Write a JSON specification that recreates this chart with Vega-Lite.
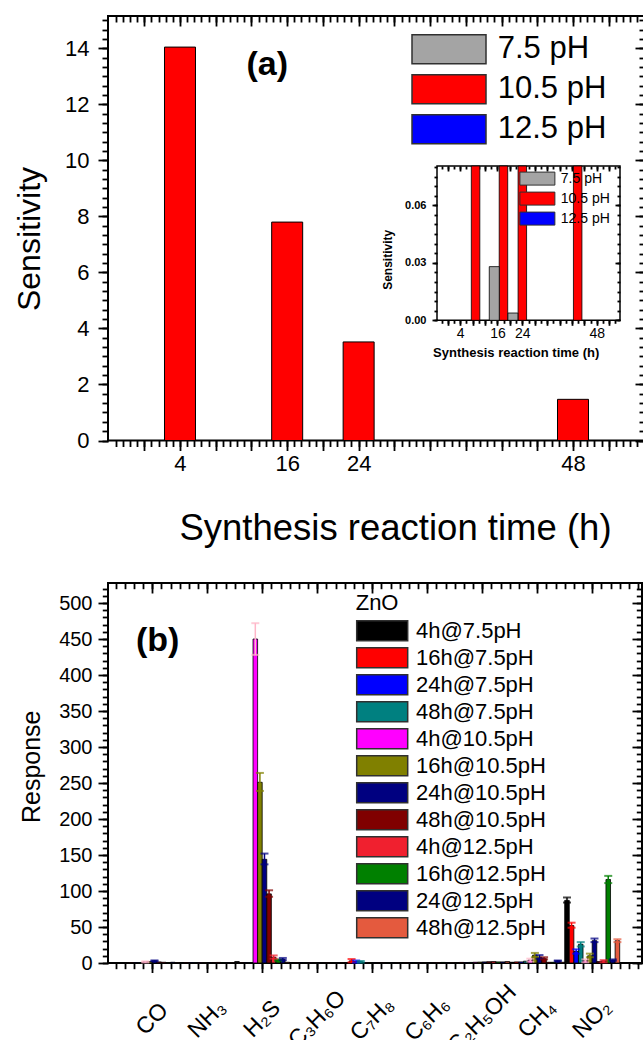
{
  "$schema": "https://vega.github.io/schema/vega-lite/v6.json",
  "padding": {"left": 12, "top": 14, "right": 0, "bottom": 0},
  "background": "white",
  "spacing": 33,
  "config": {
    "font": "Liberation Sans",
    "view": {"stroke": "black", "strokeWidth": 2},
    "axis": {"domain": false, "grid": false, "tickColor": "black", "tickWidth": 1.8, "labelColor": "black", "titleColor": "black", "labelFont": "Liberation Sans", "titleFont": "Liberation Sans", "titleFontWeight": "normal", "zindex": 1, "labelFlush": false, "labelOverlap": false, "labelBound": false},
    "legend": {"labelFont": "Liberation Sans", "titleFont": "Liberation Sans", "labelColor": "black", "titleColor": "black"}
  },
  "datasets": {
    "mainA": [
      {"t": 4, "pH": "10.5 pH", "s": 14.05},
      {"t": 16, "pH": "10.5 pH", "s": 7.8},
      {"t": 24, "pH": "10.5 pH", "s": 3.52},
      {"t": 48, "pH": "10.5 pH", "s": 1.47}
    ],
    "insetA": [
      {"t": 7.95, "pH": "10.5 pH", "s": 14.05},
      {"t": 17.46, "pH": "10.5 pH", "s": 7.8},
      {"t": 23.9, "pH": "10.5 pH", "s": 3.52},
      {"t": 42.77, "pH": "10.5 pH", "s": 1.47},
      {"t": 14.33, "pH": "7.5 pH", "s": 0.028},
      {"t": 20.68, "pH": "7.5 pH", "s": 0.0038}
    ],
    "gas": [
      {"g": "CO", "sr": "4h@7.5pH", "r": 0.5}, {"g": "CO", "sr": "16h@7.5pH", "r": 0.4}, {"g": "CO", "sr": "24h@7.5pH", "r": 0.6}, {"g": "CO", "sr": "48h@7.5pH", "r": 0.5},
      {"g": "CO", "sr": "4h@10.5pH", "r": 1.5, "lo": 0.8, "hi": 2.2}, {"g": "CO", "sr": "16h@10.5pH", "r": 2}, {"g": "CO", "sr": "24h@10.5pH", "r": 3, "lo": 2.4, "hi": 3.6}, {"g": "CO", "sr": "48h@10.5pH", "r": 1.5},
      {"g": "CO", "sr": "4h@12.5pH", "r": 1}, {"g": "CO", "sr": "16h@12.5pH", "r": 0.5}, {"g": "CO", "sr": "24@12.5pH", "r": 1}, {"g": "CO", "sr": "48h@12.5pH", "r": 0.5},
      {"g": "NH₃", "sr": "4h@7.5pH", "r": 0.3}, {"g": "NH₃", "sr": "16h@7.5pH", "r": 0.6}, {"g": "NH₃", "sr": "24h@7.5pH", "r": 0.6}, {"g": "NH₃", "sr": "48h@7.5pH", "r": 0.3},
      {"g": "NH₃", "sr": "4h@10.5pH", "r": 0.3}, {"g": "NH₃", "sr": "16h@10.5pH", "r": 0.4}, {"g": "NH₃", "sr": "24h@10.5pH", "r": 0.5}, {"g": "NH₃", "sr": "48h@10.5pH", "r": 0.7},
      {"g": "NH₃", "sr": "4h@12.5pH", "r": 0.8}, {"g": "NH₃", "sr": "16h@12.5pH", "r": 0.5}, {"g": "NH₃", "sr": "24@12.5pH", "r": 0.5}, {"g": "NH₃", "sr": "48h@12.5pH", "r": 0.4},
      {"g": "H₂S", "sr": "4h@7.5pH", "r": 2}, {"g": "H₂S", "sr": "16h@7.5pH", "r": 0.3}, {"g": "H₂S", "sr": "24h@7.5pH", "r": 0.3}, {"g": "H₂S", "sr": "48h@7.5pH", "r": 0.3},
      {"g": "H₂S", "sr": "4h@10.5pH", "r": 450, "lo": 428, "hi": 472}, {"g": "H₂S", "sr": "16h@10.5pH", "r": 251, "lo": 239, "hi": 264}, {"g": "H₂S", "sr": "24h@10.5pH", "r": 144, "lo": 137, "hi": 152}, {"g": "H₂S", "sr": "48h@10.5pH", "r": 96, "lo": 92, "hi": 101},
      {"g": "H₂S", "sr": "4h@12.5pH", "r": 8, "lo": 6, "hi": 10.5}, {"g": "H₂S", "sr": "16h@12.5pH", "r": 4, "lo": 3, "hi": 5}, {"g": "H₂S", "sr": "24@12.5pH", "r": 5, "lo": 4, "hi": 7}, {"g": "H₂S", "sr": "48h@12.5pH", "r": 1},
      {"g": "C₃H₆O", "sr": "4h@7.5pH", "r": 0.2}, {"g": "C₃H₆O", "sr": "16h@7.5pH", "r": 0.2}, {"g": "C₃H₆O", "sr": "24h@7.5pH", "r": 0.2}, {"g": "C₃H₆O", "sr": "48h@7.5pH", "r": 0.2},
      {"g": "C₃H₆O", "sr": "4h@10.5pH", "r": 0.2}, {"g": "C₃H₆O", "sr": "16h@10.5pH", "r": 0.2}, {"g": "C₃H₆O", "sr": "24h@10.5pH", "r": 0.2}, {"g": "C₃H₆O", "sr": "48h@10.5pH", "r": 0.2},
      {"g": "C₃H₆O", "sr": "4h@12.5pH", "r": 0.2}, {"g": "C₃H₆O", "sr": "16h@12.5pH", "r": 0.2}, {"g": "C₃H₆O", "sr": "24@12.5pH", "r": 0.2}, {"g": "C₃H₆O", "sr": "48h@12.5pH", "r": 0.2},
      {"g": "C₇H₈", "sr": "4h@7.5pH", "r": 0.3}, {"g": "C₇H₈", "sr": "16h@7.5pH", "r": 3, "lo": 1, "hi": 5.5}, {"g": "C₇H₈", "sr": "24h@7.5pH", "r": 2, "lo": 0.5, "hi": 3.5}, {"g": "C₇H₈", "sr": "48h@7.5pH", "r": 1.5, "lo": 0.5, "hi": 2.8},
      {"g": "C₇H₈", "sr": "4h@10.5pH", "r": 0.3}, {"g": "C₇H₈", "sr": "16h@10.5pH", "r": 0.3}, {"g": "C₇H₈", "sr": "24h@10.5pH", "r": 0.3}, {"g": "C₇H₈", "sr": "48h@10.5pH", "r": 0.3},
      {"g": "C₇H₈", "sr": "4h@12.5pH", "r": 0.2}, {"g": "C₇H₈", "sr": "16h@12.5pH", "r": 0.2}, {"g": "C₇H₈", "sr": "24@12.5pH", "r": 0.2}, {"g": "C₇H₈", "sr": "48h@12.5pH", "r": 0.2},
      {"g": "C₆H₆", "sr": "4h@7.5pH", "r": 0.2}, {"g": "C₆H₆", "sr": "16h@7.5pH", "r": 0.2}, {"g": "C₆H₆", "sr": "24h@7.5pH", "r": 0.2}, {"g": "C₆H₆", "sr": "48h@7.5pH", "r": 0.2},
      {"g": "C₆H₆", "sr": "4h@10.5pH", "r": 0.2}, {"g": "C₆H₆", "sr": "16h@10.5pH", "r": 0.2}, {"g": "C₆H₆", "sr": "24h@10.5pH", "r": 0.2}, {"g": "C₆H₆", "sr": "48h@10.5pH", "r": 0.3},
      {"g": "C₆H₆", "sr": "4h@12.5pH", "r": 0.6}, {"g": "C₆H₆", "sr": "16h@12.5pH", "r": 0.8}, {"g": "C₆H₆", "sr": "24@12.5pH", "r": 0.5}, {"g": "C₆H₆", "sr": "48h@12.5pH", "r": 0.4},
      {"g": "C₂H₅OH", "sr": "4h@7.5pH", "r": 0.5}, {"g": "C₂H₅OH", "sr": "16h@7.5pH", "r": 0.8}, {"g": "C₂H₅OH", "sr": "24h@7.5pH", "r": 0.6}, {"g": "C₂H₅OH", "sr": "48h@7.5pH", "r": 0.8},
      {"g": "C₂H₅OH", "sr": "4h@10.5pH", "r": 1}, {"g": "C₂H₅OH", "sr": "16h@10.5pH", "r": 1.2}, {"g": "C₂H₅OH", "sr": "24h@10.5pH", "r": 1.5}, {"g": "C₂H₅OH", "sr": "48h@10.5pH", "r": 1.8},
      {"g": "C₂H₅OH", "sr": "4h@12.5pH", "r": 2}, {"g": "C₂H₅OH", "sr": "16h@12.5pH", "r": 1.5}, {"g": "C₂H₅OH", "sr": "24@12.5pH", "r": 1.5}, {"g": "C₂H₅OH", "sr": "48h@12.5pH", "r": 2},
      {"g": "CH₄", "sr": "4h@7.5pH", "r": 1}, {"g": "CH₄", "sr": "16h@7.5pH", "r": 1.5}, {"g": "CH₄", "sr": "24h@7.5pH", "r": 1.5}, {"g": "CH₄", "sr": "48h@7.5pH", "r": 2.5},
      {"g": "CH₄", "sr": "4h@10.5pH", "r": 4, "lo": 2, "hi": 6}, {"g": "CH₄", "sr": "16h@10.5pH", "r": 11, "lo": 8, "hi": 14}, {"g": "CH₄", "sr": "24h@10.5pH", "r": 8, "lo": 6, "hi": 11}, {"g": "CH₄", "sr": "48h@10.5pH", "r": 6, "lo": 5, "hi": 8},
      {"g": "CH₄", "sr": "4h@12.5pH", "r": 1}, {"g": "CH₄", "sr": "16h@12.5pH", "r": 1}, {"g": "CH₄", "sr": "24@12.5pH", "r": 3, "lo": 2.5, "hi": 3.5}, {"g": "CH₄", "sr": "48h@12.5pH", "r": 1},
      {"g": "NO₂", "sr": "4h@7.5pH", "r": 87, "lo": 84, "hi": 91}, {"g": "NO₂", "sr": "16h@7.5pH", "r": 52, "lo": 49, "hi": 56}, {"g": "NO₂", "sr": "24h@7.5pH", "r": 16, "lo": 13, "hi": 19}, {"g": "NO₂", "sr": "48h@7.5pH", "r": 26, "lo": 23, "hi": 29},
      {"g": "NO₂", "sr": "4h@10.5pH", "r": 3, "lo": 1, "hi": 5}, {"g": "NO₂", "sr": "16h@10.5pH", "r": 10, "lo": 8, "hi": 13}, {"g": "NO₂", "sr": "24h@10.5pH", "r": 31, "lo": 29, "hi": 34}, {"g": "NO₂", "sr": "48h@10.5pH", "r": 2},
      {"g": "NO₂", "sr": "4h@12.5pH", "r": 3, "lo": 1, "hi": 4}, {"g": "NO₂", "sr": "16h@12.5pH", "r": 116, "lo": 111, "hi": 121}, {"g": "NO₂", "sr": "24@12.5pH", "r": 4, "lo": 3, "hi": 5}, {"g": "NO₂", "sr": "48h@12.5pH", "r": 31, "lo": 29, "hi": 33}
    ]
  },
  "vconcat": [
    {
      "width": 537,
      "height": 424.5,
      "resolve": {"scale": {"x": "independent", "y": "independent", "fill": "independent"}, "axis": {"x": "independent", "y": "independent"}},
      "layer": [
        {
          "data": {"name": "mainA"},
          "mark": {"type": "bar", "size": 31, "stroke": "black", "strokeWidth": 1},
          "encoding": {
            "x": {"field": "t", "type": "quantitative", "scale": {"domain": [-3.5, 55.5], "nice": false, "zero": false},
              "axis": {"orient": "bottom", "values": [0, 4, 8, 12, 16, 20, 24, 28, 32, 36, 40, 44, 48, 52], "tickSize": 10, "labelFontSize": 22, "labelPadding": 3,
                "labelExpr": "indexof([4,16,24,48], datum.value) >= 0 ? datum.label : ''",
                "title": "Synthesis reaction time (h)", "titleFontSize": 36.5, "titleX": 287, "titleY": 87.5, "titleBaseline": "middle", "titleAlign": "center"}},
            "y": {"field": "s", "type": "quantitative", "scale": {"domain": [0, 15.16], "nice": false},
              "axis": {"orient": "left", "values": [0, 2, 4, 6, 8, 10, 12, 14], "tickSize": 10, "labelFontSize": 22, "labelPadding": 9,
                "title": "Sensitivity", "titleFontSize": 32, "titleX": -79, "titleY": 222.5, "titleBaseline": "middle", "titleAlign": "center", "titleAngle": 270}},
            "fill": {"field": "pH", "type": "nominal", "scale": {"domain": ["7.5 pH", "10.5 pH", "12.5 pH"], "range": ["#a4a4a4", "#ff0000", "#0000ff"]},
              "legend": {"orient": "none", "legendX": 303, "legendY": 11.2, "title": null, "symbolType": "M-1,-0.69H2.524V0.69H-1Z", "symbolSize": 1764, "symbolStrokeColor": "#303030", "symbolStrokeWidth": 1.5, "labelFontSize": 31, "labelOffset": 42.7, "rowPadding": 0, "labelLimit": 300}}
          }
        },
        {
          "data": {"name": "mainA"},
          "mark": {"type": "bar", "size": 1, "opacity": 0},
          "encoding": {
            "x": {"field": "t", "type": "quantitative", "scale": {"domain": [-3.5, 55.5], "nice": false, "zero": false},
              "axis": {"orient": "bottom", "tickSize": 6, "labels": false, "title": null, "values": [-3.2,-2.4,-1.6,-0.8,0,0.8,1.6,2.4,3.2,4,4.8,5.6,6.4,7.2,8,8.8,9.6,10.4,11.2,12,12.8,13.6,14.4,15.2,16,16.8,17.6,18.4,19.2,20,20.8,21.6,22.4,23.2,24,24.8,25.6,26.4,27.2,28,28.8,29.6,30.4,31.2,32,32.8,33.6,34.4,35.2,36,36.8,37.6,38.4,39.2,40,40.8,41.6,42.4,43.2,44,44.8,45.6,46.4,47.2,48,48.8,49.6,50.4,51.2,52,52.8,53.6,54.4,55.2]}},
            "y": {"field": "s", "type": "quantitative", "scale": {"domain": [0, 15.16], "nice": false},
              "axis": {"orient": "left", "tickSize": 6, "labels": false, "title": null, "values": [0,0.3333,0.6667,1,1.3333,1.6667,2,2.3333,2.6667,3,3.3333,3.6667,4,4.3333,4.6667,5,5.3333,5.6667,6,6.3333,6.6667,7,7.3333,7.6667,8,8.3333,8.6667,9,9.3333,9.6667,10,10.3333,10.6667,11,11.3333,11.6667,12,12.3333,12.6667,13,13.3333,13.6667,14,14.3333,14.6667,15]}}
          }
        },
        {
          "data": {"name": "mainA"},
          "mark": {"type": "bar", "size": 1, "opacity": 0},
          "encoding": {
            "x": {"field": "t", "type": "quantitative", "scale": {"domain": [-3.5, 55.5], "nice": false, "zero": false},
              "axis": {"orient": "top", "offset": -10, "tickSize": 10, "labels": false, "title": null, "values": [0, 4, 8, 12, 16, 20, 24, 28, 32, 36, 40, 44, 48, 52]}},
            "y": {"field": "s", "type": "quantitative", "scale": {"domain": [0, 15.16], "nice": false},
              "axis": {"orient": "right", "offset": -10, "tickSize": 10, "labels": false, "title": null, "values": [0, 2, 4, 6, 8, 10, 12, 14]}}
          }
        },
        {
          "data": {"name": "mainA"},
          "mark": {"type": "bar", "size": 1, "opacity": 0},
          "encoding": {
            "x": {"field": "t", "type": "quantitative", "scale": {"domain": [-3.5, 55.5], "nice": false, "zero": false},
              "axis": {"orient": "top", "offset": -6, "tickSize": 6, "labels": false, "title": null, "values": [-3.2,-2.4,-1.6,-0.8,0,0.8,1.6,2.4,3.2,4,4.8,5.6,6.4,7.2,8,8.8,9.6,10.4,11.2,12,12.8,13.6,14.4,15.2,16,16.8,17.6,18.4,19.2,20,20.8,21.6,22.4,23.2,24,24.8,25.6,26.4,27.2,28,28.8,29.6,30.4,31.2,32,32.8,33.6,34.4,35.2,36,36.8,37.6,38.4,39.2,40,40.8,41.6,42.4,43.2,44,44.8,45.6,46.4,47.2,48,48.8,49.6,50.4,51.2,52,52.8,53.6,54.4,55.2]}},
            "y": {"field": "s", "type": "quantitative", "scale": {"domain": [0, 15.16], "nice": false},
              "axis": {"orient": "right", "offset": -6, "tickSize": 6, "labels": false, "title": null, "values": [0,0.3333,0.6667,1,1.3333,1.6667,2,2.3333,2.6667,3,3.3333,3.6667,4,4.3333,4.6667,5,5.3333,5.6667,6,6.3333,6.6667,7,7.3333,7.6667,8,8.3333,8.6667,9,9.3333,9.6667,10,10.3333,10.6667,11,11.3333,11.6667,12,12.3333,12.6667,13,13.3333,13.6667,14,14.3333,14.6667,15]}}
          }
        },
        {
          "data": {"values": [{}]},
          "mark": {"type": "rect", "fill": "white", "fillOpacity": 0, "stroke": "black", "strokeWidth": 1.5},
          "encoding": {
            "x": {"datum": -3.5, "type": "quantitative", "scale": {"domain": [-3.5, 55.5], "range": [329, 512], "nice": false, "zero": false},
              "axis": {"orient": "bottom", "offset": -120.2, "values": [0, 4, 8, 12, 16, 20, 24, 28, 32, 36, 40, 44, 48, 52], "tickSize": 5, "labelFontSize": 14, "labelPadding": 1,
                "labelExpr": "indexof([4,16,24,48], datum.value) >= 0 ? datum.label : ''",
                "title": "Synthesis reaction time (h)", "titleFontSize": 13, "titleFontWeight": "bold", "titleX": 407.7, "titleY": 31.7, "titleBaseline": "middle", "titleAlign": "center"}},
            "x2": {"datum": 55.5},
            "y": {"datum": 0, "type": "quantitative", "scale": {"domain": [0, 0.0805], "range": [304.3, 150], "nice": false, "zero": false},
              "axis": {"orient": "left", "offset": -329, "values": [0, 0.03, 0.06], "format": ".2f", "tickSize": 5, "labelFontSize": 11, "labelFontWeight": "bold", "labelPadding": 6,
                "title": "Sensitivity", "titleFontSize": 12, "titleFontWeight": "bold", "titleX": -50, "titleY": 243.3, "titleBaseline": "middle", "titleAlign": "center", "titleAngle": 270}},
            "y2": {"datum": 0.0805}
          }
        },
        {
          "data": {"name": "insetA"},
          "transform": [{"filter": "datum.pH == '10.5 pH'"}],
          "mark": {"type": "bar", "size": 8.5, "stroke": "black", "strokeWidth": 0.8},
          "encoding": {
            "x": {"field": "t", "type": "quantitative", "scale": {"domain": [-3.5, 55.5], "range": [329, 512], "nice": false, "zero": false}, "axis": null},
            "y": {"field": "s", "type": "quantitative", "scale": {"domain": [0, 0.0805], "range": [304.3, 150], "nice": false, "zero": false, "clamp": true}, "axis": null},
            "fill": {"field": "pH", "type": "nominal", "scale": {"domain": ["7.5 pH", "10.5 pH", "12.5 pH"], "range": ["#a4a4a4", "#ff0000", "#0000ff"]},
              "legend": {"orient": "none", "legendX": 411, "legendY": 151.1, "title": null, "symbolType": "M-1,-0.613H2.302V0.613H-1Z", "symbolSize": 449, "symbolStrokeColor": "#303030", "symbolStrokeWidth": 1, "labelFontSize": 14, "labelOffset": 18.8, "rowPadding": 0}}
          }
        },
        {
          "data": {"name": "insetA"},
          "transform": [{"filter": "datum.pH == '7.5 pH'"}],
          "mark": {"type": "bar", "size": 10, "fill": "#a4a4a4", "stroke": "black", "strokeWidth": 0.8},
          "encoding": {
            "x": {"field": "t", "type": "quantitative", "scale": {"domain": [-3.5, 55.5], "range": [329, 512], "nice": false, "zero": false}, "axis": null},
            "y": {"field": "s", "type": "quantitative", "scale": {"domain": [0, 0.0805], "range": [304.3, 150], "nice": false, "zero": false, "clamp": true}, "axis": null}
          }
        },
        {
          "data": {"values": [{}]},
          "mark": {"type": "rect", "opacity": 0},
          "encoding": {
            "x": {"datum": -3.5, "type": "quantitative", "scale": {"domain": [-3.5, 55.5], "range": [329, 512], "nice": false, "zero": false},
              "axis": {"orient": "bottom", "offset": -120.2, "tickSize": 3, "labels": false, "title": null, "values": [-2,0,2,4,6,8,10,12,14,16,18,20,22,24,26,28,30,32,34,36,38,40,42,44,46,48,50,52,54]}},
            "x2": {"datum": 55.5},
            "y": {"datum": 0, "type": "quantitative", "scale": {"domain": [0, 0.0805], "range": [304.3, 150], "nice": false, "zero": false},
              "axis": {"orient": "left", "offset": -329, "tickSize": 3, "labels": false, "title": null, "values": [0,0.005,0.01,0.015,0.02,0.025,0.03,0.035,0.04,0.045,0.05,0.055,0.06,0.065,0.07,0.075,0.08]}},
            "y2": {"datum": 0.0805}
          }
        },
        {
          "data": {"values": [{}]},
          "mark": {"type": "rect", "opacity": 0},
          "encoding": {
            "x": {"datum": -3.5, "type": "quantitative", "scale": {"domain": [-3.5, 55.5], "range": [329, 512], "nice": false, "zero": false},
              "axis": {"orient": "top", "offset": -155, "tickSize": 5, "labels": false, "title": null, "values": [0, 4, 8, 12, 16, 20, 24, 28, 32, 36, 40, 44, 48, 52]}},
            "x2": {"datum": 55.5},
            "y": {"datum": 0, "type": "quantitative", "scale": {"domain": [0, 0.0805], "range": [304.3, 150], "nice": false, "zero": false},
              "axis": {"orient": "right", "offset": -30, "tickSize": 5, "labels": false, "title": null, "values": [0, 0.03, 0.06]}},
            "y2": {"datum": 0.0805}
          }
        },
        {
          "data": {"values": [{}]},
          "mark": {"type": "rect", "opacity": 0},
          "encoding": {
            "x": {"datum": -3.5, "type": "quantitative", "scale": {"domain": [-3.5, 55.5], "range": [329, 512], "nice": false, "zero": false},
              "axis": {"orient": "top", "offset": -153, "tickSize": 3, "labels": false, "title": null, "values": [-2,0,2,4,6,8,10,12,14,16,18,20,22,24,26,28,30,32,34,36,38,40,42,44,46,48,50,52,54]}},
            "x2": {"datum": 55.5},
            "y": {"datum": 0, "type": "quantitative", "scale": {"domain": [0, 0.0805], "range": [304.3, 150], "nice": false, "zero": false},
              "axis": {"orient": "right", "offset": -28, "tickSize": 3, "labels": false, "title": null, "values": [0,0.005,0.01,0.015,0.02,0.025,0.03,0.035,0.04,0.045,0.05,0.055,0.06,0.065,0.07,0.075,0.08]}},
            "y2": {"datum": 0.0805}
          }
        },
        {
          "data": {"values": [{}]},
          "mark": {"type": "text", "text": "(a)", "font": "Liberation Sans", "fontWeight": "bold", "fontSize": 34, "align": "center", "baseline": "middle", "color": "black"},
          "encoding": {
            "x": {"datum": 14, "type": "quantitative", "scale": {"domain": [-3.5, 55.5], "nice": false, "zero": false}, "axis": null},
            "y": {"datum": 13.4, "type": "quantitative", "scale": {"domain": [0, 15.16], "nice": false}, "axis": null}
          }
        }
      ]
    },
    {
      "width": 534,
      "height": 380,
      "resolve": {"scale": {"x": "independent", "y": "independent", "fill": "independent", "stroke": "independent", "color": "independent"}, "axis": {"x": "independent", "y": "independent"}},
      "layer": [
        {
          "data": {"name": "gas"},
          "mark": {"type": "bar", "stroke": "black", "strokeWidth": 0.8},
          "encoding": {
            "x": {"field": "g", "type": "nominal", "scale": {"type": "band", "domain": ["CO", "NH₃", "H₂S", "C₃H₆O", "C₇H₈", "C₆H₆", "C₂H₅OH", "CH₄", "NO₂"], "paddingInner": 0, "paddingOuter": 0.3545, "align": 0.428},
              "axis": {"orient": "bottom", "bandPosition": 0.5, "tickSize": 9.5, "labelAngle": -45, "labelAlign": "center", "labelBaseline": "middle", "labelPadding": 46, "labelFontSize": 23, "title": null}},
            "xOffset": {"field": "sr", "type": "nominal", "scale": {"domain": ["4h@7.5pH", "16h@7.5pH", "24h@7.5pH", "48h@7.5pH", "4h@10.5pH", "16h@10.5pH", "24h@10.5pH", "48h@10.5pH", "4h@12.5pH", "16h@12.5pH", "24@12.5pH", "48h@12.5pH"], "paddingInner": 0, "paddingOuter": 0}},
            "y": {"field": "r", "type": "quantitative", "scale": {"domain": [0, 527.8], "nice": false},
              "axis": {"orient": "left", "values": [0, 50, 100, 150, 200, 250, 300, 350, 400, 450, 500], "tickSize": 10, "labelFontSize": 20, "labelPadding": 6,
                "title": "Response", "titleFontSize": 25, "titleX": -76.5, "titleY": 183.3, "titleBaseline": "middle", "titleAlign": "center", "titleAngle": 270}},
            "fill": {"field": "sr", "type": "nominal",
              "scale": {"domain": ["4h@7.5pH", "16h@7.5pH", "24h@7.5pH", "48h@7.5pH", "4h@10.5pH", "16h@10.5pH", "24h@10.5pH", "48h@10.5pH", "4h@12.5pH", "16h@12.5pH", "24@12.5pH", "48h@12.5pH"],
                "range": ["#000000", "#ff0000", "#0000ff", "#008080", "#ff00ff", "#808000", "#000080", "#800000", "#f0202f", "#008000", "#000080", "#e45a3e"]},
              "legend": {"orient": "none", "legendX": 247.7, "legendY": 10.3, "title": "ZnO", "titleFontSize": 22, "titleFontWeight": "normal", "titlePadding": 1.4, "symbolType": "M-1,-0.769H2.923V0.769H-1Z", "symbolSize": 676, "symbolStrokeColor": "#303030", "symbolStrokeWidth": 1.5, "labelFontSize": 22, "labelOffset": 32.3, "rowPadding": 0, "labelLimit": 300}}
          }
        },
        {
          "data": {"name": "gas"},
          "mark": {"type": "rule", "strokeWidth": 1.5},
          "encoding": {
            "x": {"field": "g", "type": "nominal", "scale": {"type": "band", "domain": ["CO", "NH₃", "H₂S", "C₃H₆O", "C₇H₈", "C₆H₆", "C₂H₅OH", "CH₄", "NO₂"], "paddingInner": 0, "paddingOuter": 0.3545, "align": 0.428}, "axis": null},
            "xOffset": {"field": "sr", "type": "nominal", "scale": {"domain": ["4h@7.5pH", "16h@7.5pH", "24h@7.5pH", "48h@7.5pH", "4h@10.5pH", "16h@10.5pH", "24h@10.5pH", "48h@10.5pH", "4h@12.5pH", "16h@12.5pH", "24@12.5pH", "48h@12.5pH"], "paddingInner": 0, "paddingOuter": 0}},
            "y": {"field": "lo", "type": "quantitative", "scale": {"domain": [0, 527.8], "nice": false}, "axis": null},
            "y2": {"field": "hi"},
            "stroke": {"field": "sr", "type": "nominal", "legend": null,
              "scale": {"domain": ["4h@7.5pH", "16h@7.5pH", "24h@7.5pH", "48h@7.5pH", "4h@10.5pH", "16h@10.5pH", "24h@10.5pH", "48h@10.5pH", "4h@12.5pH", "16h@12.5pH", "24@12.5pH", "48h@12.5pH"],
                "range": ["#000000", "#ff0000", "#0000ff", "#008080", "#ffb6c8", "#808000", "#000080", "#800000", "#f0202f", "#008000", "#000080", "#e45a3e"]}}
          }
        },
        {
          "data": {"name": "gas"},
          "mark": {"type": "tick", "orient": "horizontal", "size": 8, "thickness": 2},
          "encoding": {
            "x": {"field": "g", "type": "nominal", "scale": {"type": "band", "domain": ["CO", "NH₃", "H₂S", "C₃H₆O", "C₇H₈", "C₆H₆", "C₂H₅OH", "CH₄", "NO₂"], "paddingInner": 0, "paddingOuter": 0.3545, "align": 0.428}, "axis": null},
            "xOffset": {"field": "sr", "type": "nominal", "scale": {"domain": ["4h@7.5pH", "16h@7.5pH", "24h@7.5pH", "48h@7.5pH", "4h@10.5pH", "16h@10.5pH", "24h@10.5pH", "48h@10.5pH", "4h@12.5pH", "16h@12.5pH", "24@12.5pH", "48h@12.5pH"], "paddingInner": 0, "paddingOuter": 0}},
            "y": {"field": "hi", "type": "quantitative", "scale": {"domain": [0, 527.8], "nice": false}, "axis": null},
            "color": {"field": "sr", "type": "nominal", "legend": null,
              "scale": {"domain": ["4h@7.5pH", "16h@7.5pH", "24h@7.5pH", "48h@7.5pH", "4h@10.5pH", "16h@10.5pH", "24h@10.5pH", "48h@10.5pH", "4h@12.5pH", "16h@12.5pH", "24@12.5pH", "48h@12.5pH"],
                "range": ["#000000", "#ff0000", "#0000ff", "#008080", "#ffb6c8", "#808000", "#000080", "#800000", "#f0202f", "#008000", "#000080", "#e45a3e"]}}
          }
        },
        {
          "data": {"name": "gas"},
          "mark": {"type": "tick", "orient": "horizontal", "size": 8, "thickness": 2},
          "encoding": {
            "x": {"field": "g", "type": "nominal", "scale": {"type": "band", "domain": ["CO", "NH₃", "H₂S", "C₃H₆O", "C₇H₈", "C₆H₆", "C₂H₅OH", "CH₄", "NO₂"], "paddingInner": 0, "paddingOuter": 0.3545, "align": 0.428}, "axis": null},
            "xOffset": {"field": "sr", "type": "nominal", "scale": {"domain": ["4h@7.5pH", "16h@7.5pH", "24h@7.5pH", "48h@7.5pH", "4h@10.5pH", "16h@10.5pH", "24h@10.5pH", "48h@10.5pH", "4h@12.5pH", "16h@12.5pH", "24@12.5pH", "48h@12.5pH"], "paddingInner": 0, "paddingOuter": 0}},
            "y": {"field": "lo", "type": "quantitative", "scale": {"domain": [0, 527.8], "nice": false}, "axis": null},
            "color": {"field": "sr", "type": "nominal", "legend": null,
              "scale": {"domain": ["4h@7.5pH", "16h@7.5pH", "24h@7.5pH", "48h@7.5pH", "4h@10.5pH", "16h@10.5pH", "24h@10.5pH", "48h@10.5pH", "4h@12.5pH", "16h@12.5pH", "24@12.5pH", "48h@12.5pH"],
                "range": ["#000000", "#ff0000", "#0000ff", "#008080", "#ffb6c8", "#808000", "#000080", "#800000", "#f0202f", "#008000", "#000080", "#e45a3e"]}}
          }
        },
        {
          "data": {"values": [{}]},
          "mark": {"type": "text", "text": "(b)", "font": "Liberation Sans", "fontWeight": "bold", "fontSize": 34, "align": "center", "baseline": "middle", "color": "black"},
          "encoding": {
            "x": {"datum": 0.1, "type": "quantitative", "scale": {"domain": [-0.8036, 8.905], "nice": false, "zero": false},
              "axis": {"orient": "bottom", "tickSize": 5.7, "labels": false, "title": null, "values": [-0.6667,-0.5,-0.3333,-0.1667,0,0.1667,0.3333,0.5,0.6667,0.8333,1,1.1667,1.3333,1.5,1.6667,1.8333,2,2.1667,2.3333,2.5,2.6667,2.8333,3,3.1667,3.3333,3.5,3.6667,3.8333,4,4.1667,4.3333,4.5,4.6667,4.8333,5,5.1667,5.3333,5.5,5.6667,5.8333,6,6.1667,6.3333,6.5,6.6667,6.8333,7,7.1667,7.3333,7.5,7.6667,7.8333,8,8.1667,8.3333,8.5,8.6667,8.8333]}},
            "y": {"datum": 447, "type": "quantitative", "scale": {"domain": [0, 527.8], "nice": false},
              "axis": {"orient": "left", "tickSize": 5.7, "labels": false, "title": null, "values": [0,10,20,30,40,50,60,70,80,90,100,110,120,130,140,150,160,170,180,190,200,210,220,230,240,250,260,270,280,290,300,310,320,330,340,350,360,370,380,390,400,410,420,430,440,450,460,470,480,490,500,510,520]}}
          }
        },
        {
          "data": {"values": [{}]},
          "mark": {"type": "text", "text": " ", "opacity": 0},
          "encoding": {
            "x": {"datum": 0, "type": "quantitative", "scale": {"domain": [-0.8036, 8.905], "nice": false, "zero": false},
              "axis": {"orient": "top", "offset": -10, "tickSize": 10, "labels": false, "title": null, "values": [0, 1, 2, 3, 4, 5, 6, 7, 8]}},
            "y": {"datum": 0, "type": "quantitative", "scale": {"domain": [0, 527.8], "nice": false},
              "axis": {"orient": "right", "offset": -10, "tickSize": 10, "labels": false, "title": null, "values": [0, 50, 100, 150, 200, 250, 300, 350, 400, 450, 500]}}
          }
        },
        {
          "data": {"values": [{}]},
          "mark": {"type": "text", "text": " ", "opacity": 0},
          "encoding": {
            "x": {"datum": 0, "type": "quantitative", "scale": {"domain": [-0.8036, 8.905], "nice": false, "zero": false},
              "axis": {"orient": "top", "offset": -5.7, "tickSize": 5.7, "labels": false, "title": null, "values": [-0.6667,-0.5,-0.3333,-0.1667,0,0.1667,0.3333,0.5,0.6667,0.8333,1,1.1667,1.3333,1.5,1.6667,1.8333,2,2.1667,2.3333,2.5,2.6667,2.8333,3,3.1667,3.3333,3.5,3.6667,3.8333,4,4.1667,4.3333,4.5,4.6667,4.8333,5,5.1667,5.3333,5.5,5.6667,5.8333,6,6.1667,6.3333,6.5,6.6667,6.8333,7,7.1667,7.3333,7.5,7.6667,7.8333,8,8.1667,8.3333,8.5,8.6667,8.8333]}},
            "y": {"datum": 0, "type": "quantitative", "scale": {"domain": [0, 527.8], "nice": false},
              "axis": {"orient": "right", "offset": -5.7, "tickSize": 5.7, "labels": false, "title": null, "values": [0,10,20,30,40,50,60,70,80,90,100,110,120,130,140,150,160,170,180,190,200,210,220,230,240,250,260,270,280,290,300,310,320,330,340,350,360,370,380,390,400,410,420,430,440,450,460,470,480,490,500,510,520]}}
          }
        }
      ]
    }
  ]
}
